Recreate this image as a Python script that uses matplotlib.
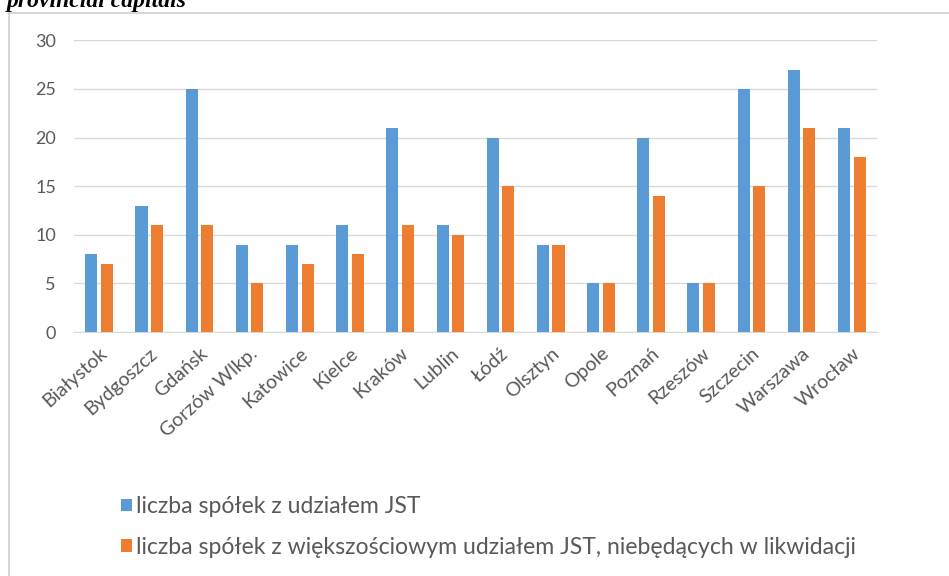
import numpy as np
import matplotlib.pyplot as plt
from matplotlib.patches import Rectangle

cities = ["Białystok", "Bydgoszcz", "Gdańsk", "Gorzów Wlkp.", "Katowice", "Kielce",
          "Kraków", "Lublin", "Łódź", "Olsztyn", "Opole", "Poznań", "Rzeszów",
          "Szczecin", "Warszawa", "Wrocław"]
all_shares = [8, 13, 25, 9, 9, 11, 21, 11, 20, 9, 5, 20, 5, 25, 27, 21]
majority_shares = [7, 11, 11, 5, 7, 8, 11, 10, 15, 9, 5, 14, 5, 15, 21, 18]
labels = ["liczba spółek z udziałem JST",
          "liczba spółek z większościowym udziałem JST, niebędących w likwidacji"]

blue = "#5B9BD5"
orange = "#ED7D31"
grey = "#595959"

fig = plt.figure(figsize=(9.49, 5.76), dpi=100)
# chart frame
fig.patches.append(Rectangle((0.009, -0.01), 1.0, 0.988, transform=fig.transFigure,
                             facecolor="none", edgecolor="#D0D0D0", lw=1.2, zorder=0))
fig.text(0.007, 1 - 7 / 576, "provincial capitals", family="Liberation Serif", weight="bold",
         style="italic", fontsize=17, va="baseline", ha="left")

ax = fig.add_axes([0.078, 0.4236, 0.846, 0.5063])
x = np.arange(len(cities))
w = 0.24
ax.bar(x - w / 2 - 0.035, all_shares, w, color=blue, label=labels[0], zorder=3)
ax.bar(x + w / 2 + 0.035, majority_shares, w, color=orange, label=labels[1], zorder=3)

ax.set_xlim(-0.5, len(cities) - 0.5)
ax.set_ylim(0, 30)
ax.set_yticks(range(0, 31, 5))
ax.yaxis.grid(True, color="#D9D9D9", lw=1)
ax.set_axisbelow(True)
for s in ["top", "right", "left"]:
    ax.spines[s].set_visible(False)
ax.spines["bottom"].set_color("#D9D9D9")
ax.tick_params(length=0, colors=grey, labelsize=13)
ax.set_xticks(x)
ax.set_xticklabels(cities, rotation=42, ha="right", rotation_mode="anchor",
                   family="Lato", fontsize=14)
for t in ax.get_yticklabels():
    t.set_family("Lato")
ax.tick_params(axis="y", pad=13)
ax.tick_params(axis="x", pad=9)

leg = fig.legend(loc="upper left", bbox_to_anchor=(0.118, 0.155), frameon=False,
                 handlelength=0.45, handleheight=0.45, handletextpad=0.2,
                 labelspacing=0.85, borderaxespad=0, prop={"family": "Lato", "size": 16.6})
for t in leg.get_texts():
    t.set_color(grey)

fig.savefig("out.png", dpi=100)
